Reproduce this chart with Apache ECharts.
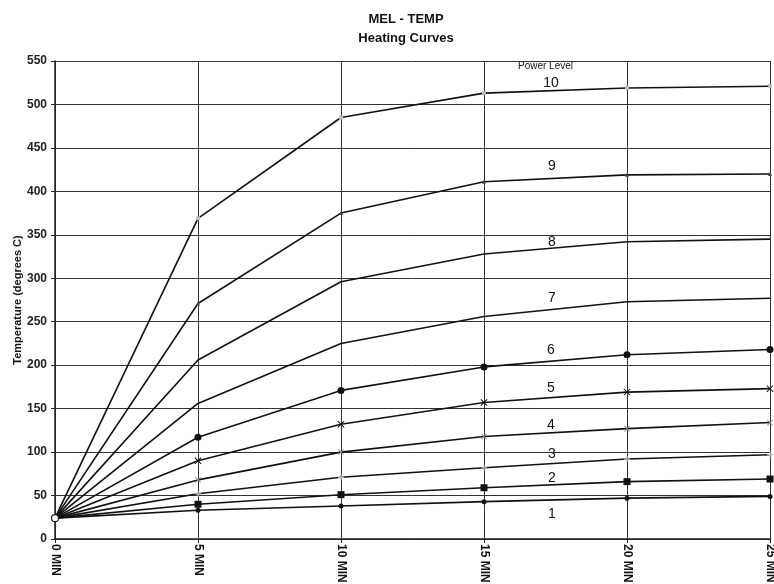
<!DOCTYPE html>
<html>
<head>
<meta charset="utf-8">
<script src="https://cdn.jsdelivr.net/npm/echarts@6/dist/echarts.min.js"></script>
<style>
  html, body { margin: 0; padding: 0; background: #fff; }
  #chart { width: 774px; height: 584px; }
</style>
</head>
<body>
<div id="chart"></div>
<script>
// x categories (minutes)
const timeLabels = ['0 MIN', '5 MIN', '10 MIN', '15 MIN', '20 MIN', '25 MIN']
const yTicks = [0, 50, 100, 150, 200, 250, 300, 350, 400, 450, 500, 550]

// temperature readings per power level
const level1 = [24, 33, 38, 43, 47, 49]
const level2 = [24, 40, 51, 59, 66, 69]
const level3 = [24, 52, 71, 82, 92, 97]
const level4 = [24, 68, 100, 118, 127, 134]
const level5 = [24, 90, 132, 157, 169, 173]
const level6 = [24, 117, 171, 198, 212, 218]
const level7 = [24, 156, 225, 256, 273, 277]
const level8 = [24, 206, 296, 328, 342, 345]
const level9 = [24, 271, 375, 411, 419, 420]
const level10 = [24, 369, 485, 513, 519, 521]
const levelNames = ['1', '2', '3', '4', '5', '6', '7', '8', '9', '10']

const crossPath = 'path://M0,1L1,0L5,4L9,0L10,1L6,5L10,9L9,10L5,6L1,10L0,9L4,5Z'
const plusPath = 'path://M4,0L6,0L6,4L10,4L10,6L6,6L6,10L4,10L4,6L0,6L0,4L4,4Z'

const font = 'Liberation Sans, Arial, sans-serif'

// the shared starting reading gets an open circle, drawn once (on level 1)
const mkLine = (name, data, symbol, size, color, isFirst) => ({
  name,
  type: 'line',
  clip: false,
  data: data.map((v, i) => {
    if (i !== 0) return v
    return isFirst
      ? { value: v, symbol: 'circle', symbolSize: 7, itemStyle: { color: '#fff', borderColor: '#222', borderWidth: 1.2 } }
      : { value: v, symbol: 'none' }
  }),
  symbol,
  symbolSize: size,
  showSymbol: true,
  itemStyle: { color: color || '#111' },
  lineStyle: { color: '#111', width: 1.6 },
  z: isFirst ? 5 : 3
})

const labelY = [514, 478, 454, 425, 388, 350, 298, 242, 166, 83]
const labelX = [552, 552, 552, 551, 551, 551, 552, 552, 552, 551]

const chart = echarts.init(document.getElementById('chart'))
chart.setOption({
  animation: false,
  backgroundColor: '#fff',
  title: {
    text: 'MEL - TEMP\nHeating Curves',
    left: 401,
    top: 5,
    textAlign: 'center',
    textStyle: { fontFamily: font, fontSize: 13, fontWeight: 'bold', color: '#111', lineHeight: 19 }
  },
  grid: { left: 55, right: 4, top: 61, bottom: 45, outerBoundsMode: 'none' },
  xAxis: {
    type: 'category',
    data: timeLabels,
    boundaryGap: false,
    axisLine: { lineStyle: { color: '#222', width: 1.5 } },
    axisTick: { show: true, length: 4, lineStyle: { color: '#222' } },
    axisLabel: { rotate: -90, fontFamily: font, fontSize: 12, fontWeight: 'bold', color: '#111', margin: 5, hideOverlap: false },
    splitLine: { show: true, lineStyle: { color: '#333', width: 1 } }
  },
  yAxis: {
    type: 'value',
    min: yTicks[0],
    max: yTicks[yTicks.length - 1],
    interval: 50,
    name: 'Temperature (degrees C)',
    nameLocation: 'middle',
    nameGap: 32,
    nameMoveOverlap: false,
    nameTextStyle: { fontFamily: font, fontSize: 11, fontWeight: 'bold', color: '#111' },
    axisLine: { show: true, lineStyle: { color: '#222', width: 1.5 } },
    axisTick: { show: true, length: 4, lineStyle: { color: '#222' } },
    axisLabel: { fontFamily: font, fontSize: 12, fontWeight: 'bold', color: '#222', margin: 8 },
    splitLine: { show: true, lineStyle: { color: '#333', width: 1 } }
  },
  series: [
    mkLine(levelNames[0], level1, 'circle', 5, '#111', true),
    mkLine(levelNames[1], level2, 'rect', 7),
    mkLine(levelNames[2], level3, plusPath, 6, '#bbb'),
    mkLine(levelNames[3], level4, crossPath, 6, '#888'),
    mkLine(levelNames[4], level5, crossPath, 7),
    mkLine(levelNames[5], level6, 'circle', 7),
    mkLine(levelNames[6], level7, 'none', 4),
    mkLine(levelNames[7], level8, 'none', 4),
    mkLine(levelNames[8], level9, 'triangle', 4, '#444'),
    mkLine(levelNames[9], level10, 'rect', 4, '#bbb')
  ],
  graphic: [
    { type: 'text', left: 518, top: 61, style: { text: 'Power Level', font: '10px ' + font, fill: '#111' } }
  ].concat(levelNames.map((n, i) => ({
    type: 'text',
    x: labelX[i],
    y: labelY[i],
    style: { text: n, font: '14px ' + font, fill: '#111', textAlign: 'center', textVerticalAlign: 'middle' }
  })))
})
</script>
</body>
</html>
